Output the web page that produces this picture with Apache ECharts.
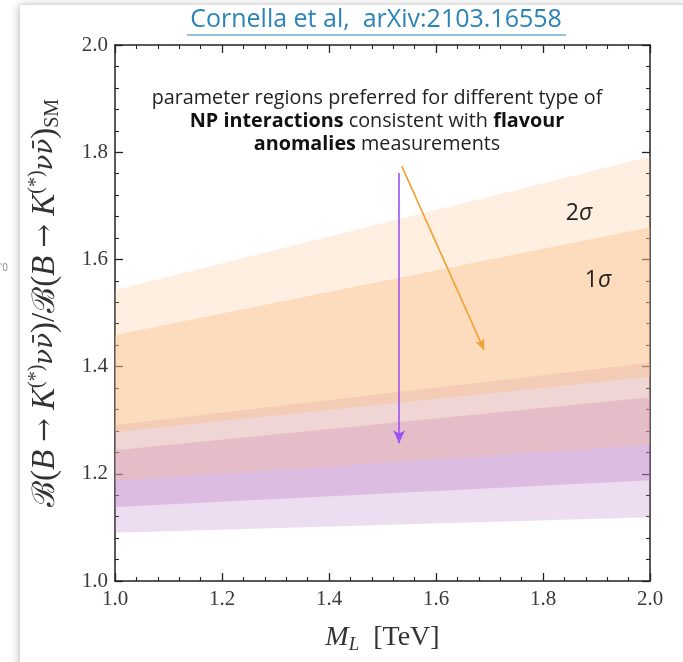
<!DOCTYPE html>
<html>
<head>
<meta charset="utf-8">
<title>B to K nu nu ratio vs M_L</title>
<script src="https://cdn.jsdelivr.net/npm/echarts@6/dist/echarts.min.js"></script>
<style>
    html, body { margin: 0; padding: 0; background: #fff; }
    #chart { width: 683px; height: 662px; }
</style>
</head>
<body>
<div id="chart"></div>
<script>
// band edges at M_L = 1 TeV and 2 TeV
var bandX = [1.0, 2.0];
var purple2Lo = [1.090, 1.119];
var purple2Hi = [1.291, 1.407];
var purple1Lo = [1.138, 1.188];
var purple1Hi = [1.244, 1.343];
var orange2Lo = [1.187, 1.254];
var orange2Hi = [1.543, 1.792];
var orange1Lo = [1.278, 1.381];
var orange1Hi = [1.459, 1.660];

// arrows (start, end)
var purpleArrow = [[1.531, 1.761], [1.531, 1.257]];
var orangeArrow = [[1.536, 1.774], [1.690, 1.431]];

var serif = '"Liberation Serif", "DejaVu Serif", serif';
var sans = '"Open Sans", "Noto Sans", sans-serif';

function band(name, lo, hi, color) {
    return {
        name: name,
        type: 'custom',
        silent: true,
        data: [[bandX[0], lo[0], hi[0], bandX[1], lo[1], hi[1]]],
        encode: { x: [0, 3], y: [1, 2, 4, 5] },
        renderItem: function (params, api) {
            var pts = [
                api.coord([api.value(0), api.value(1)]),
                api.coord([api.value(3), api.value(4)]),
                api.coord([api.value(3), api.value(5)]),
                api.coord([api.value(0), api.value(2)])
            ];
            return {
                type: 'polygon',
                shape: { points: pts },
                style: { fill: color }
            };
        }
    };
}

function arrow(name, pair, color, size) {
    return {
        name: name,
        type: 'line',
        data: [],
        markLine: {
            silent: true,
            symbol: ['none', 'arrow'],
            symbolSize: size,
            label: { show: false },
            lineStyle: { color: color, width: 1.6, type: 'solid' },
            data: [[{ coord: pair[0] }, { coord: pair[1] }]]
        }
    };
}

var myChart = echarts.init(document.getElementById('chart'));

var axisLineStyle = { show: true, lineStyle: { color: '#222', width: 1.5 } };
var tickStyle = { show: true, inside: true, length: 8, lineStyle: { color: '#222', width: 1.3 } };
var minorStyle = { show: true, splitNumber: 5, length: 4, lineStyle: { color: '#222', width: 1.1 } };

var option = {
    animation: false,
    backgroundColor: '#fff',
    grid: { left: 115, right: 33, top: 45, bottom: 81 },
    xAxis: [{
        type: 'value', min: 1, max: 2, interval: 0.2,
        axisLine: axisLineStyle,
        axisTick: tickStyle,
        minorTick: minorStyle,
        splitLine: { show: false },
        axisLabel: {
            fontFamily: serif, fontSize: 21, color: '#3a3a3a', margin: 8,
            formatter: function (v) { return v.toFixed(1); }
        },
        name: '{i|M}{s|L}  [TeV]',
        nameLocation: 'middle',
        nameGap: 41,
        nameTextStyle: {
            fontFamily: serif, fontSize: 28, color: '#333',
            rich: {
                i: { fontFamily: serif, fontStyle: 'italic', fontSize: 28, color: '#333' },
                s: { fontFamily: serif, fontStyle: 'italic', fontSize: 19, color: '#333', padding: [13, 0, 0, 0] }
            }
        }
    }, {
        type: 'value', min: 1, max: 2, interval: 0.2, position: 'top',
        axisLine: axisLineStyle,
        axisTick: tickStyle,
        minorTick: minorStyle,
        splitLine: { show: false },
        axisLabel: { show: false }
    }],
    yAxis: [{
        type: 'value', min: 1, max: 2, interval: 0.2,
        axisLine: axisLineStyle,
        axisTick: tickStyle,
        minorTick: minorStyle,
        splitLine: { show: false },
        axisLabel: {
            fontFamily: serif, fontSize: 21, color: '#3a3a3a', margin: 7,
            formatter: function (v) { return v.toFixed(1); }
        },
        name: '{c|ℬ}({i|B} {a|→} {i|K}{p|(*)}{n|νν̄})/{c|ℬ}({i|B} {a|→} {i|K}{p|(*)}{n|νν̄}){s|SM}',
        nameLocation: 'middle',
        nameGap: 51,
        nameTextStyle: {
            fontFamily: serif, fontSize: 33, color: '#333',
            padding: [0, 0, 0, 20],
            rich: {
                c: { fontFamily: '"DejaVu Serif", serif', fontSize: 31, color: '#333' },
                i: { fontFamily: serif, fontStyle: 'italic', fontSize: 33, color: '#333' },
                a: { fontFamily: '"DejaVu Serif", serif', fontSize: 28, color: '#333' },
                n: { fontFamily: '"DejaVu Serif", serif', fontStyle: 'italic', fontSize: 26, color: '#333' },
                p: { fontFamily: serif, fontSize: 20, color: '#333', padding: [0, 0, 17, 0] },
                s: { fontFamily: serif, fontSize: 20, color: '#333', padding: [15, 0, 0, 0] }
            }
        }
    }, {
        type: 'value', min: 1, max: 2, interval: 0.2, position: 'right',
        axisLine: axisLineStyle,
        axisTick: tickStyle,
        minorTick: minorStyle,
        splitLine: { show: false },
        axisLabel: { show: false }
    }],
    graphic: [
        // slide card behind the plot
        {
            type: 'rect', z: -10, silent: true,
            shape: { x: 20, y: 5, width: 720, height: 720 },
            style: { fill: '#fff', shadowBlur: 8, shadowColor: 'rgba(0,0,0,0.28)', shadowOffsetX: -1, shadowOffsetY: 0 }
        },
        {
            type: 'text', left: 0, top: 263, silent: true,
            style: { text: '\'0', font: '10px "Open Sans", sans-serif', fill: '#888' }
        },
        {
            type: 'text', z: 100, silent: true, x: 376, y: 20,
            style: {
                text: 'Cornella et al,  arXiv:2103.16558',
                font: '25px ' + sans, fill: '#2c83b7', align: 'center', verticalAlign: 'middle'
            }
        },
        {
            type: 'line', z: 100, silent: true,
            shape: { x1: 187, y1: 35, x2: 566, y2: 35 },
            style: { stroke: '#2c83b7', lineWidth: 1.2 }
        },
        {
            type: 'text', z: 100, silent: true, x: 377, y: 86.5,
            style: {
                text: 'parameter regions preferred for different type of\n{b|NP interactions} consistent with {b|flavour}\n{b|anomalies} measurements',
                fontFamily: sans, fontSize: 19.8, fill: '#222', lineHeight: 23, align: 'center',
                rich: {
                    b: { fontFamily: sans, fontSize: 19.8, fontWeight: 'bold', fill: '#111' }
                }
            }
        },
        {
            type: 'text', z: 100, silent: true, x: 579, y: 213,
            style: { text: '2{g|σ}', fontFamily: sans, fontSize: 23, fill: '#222', align: 'center', verticalAlign: 'middle',
                rich: { g: { fontFamily: sans, fontSize: 23, fontStyle: 'italic', fill: '#222' } } }
        },
        {
            type: 'text', z: 100, silent: true, x: 598, y: 280,
            style: { text: '1{g|σ}', fontFamily: sans, fontSize: 23, fill: '#222', align: 'center', verticalAlign: 'middle',
                rich: { g: { fontFamily: sans, fontSize: 23, fontStyle: 'italic', fill: '#222' } } }
        }
    ],
    series: [
        band('purple 2σ', purple2Lo, purple2Hi, 'rgba(190,130,200,0.27)'),
        band('purple 1σ', purple1Lo, purple1Hi, 'rgba(190,130,200,0.36)'),
        band('orange 2σ', orange2Lo, orange2Hi, 'rgba(250,190,130,0.25)'),
        band('orange 1σ', orange1Lo, orange1Hi, 'rgba(250,190,130,0.38)'),
        arrow('purple arrow', purpleArrow, '#9d52f2', [9, 13]),
        arrow('orange arrow', orangeArrow, '#f0a030', [7, 11])
    ]
};

myChart.setOption(option);
</script>
</body>
</html>
